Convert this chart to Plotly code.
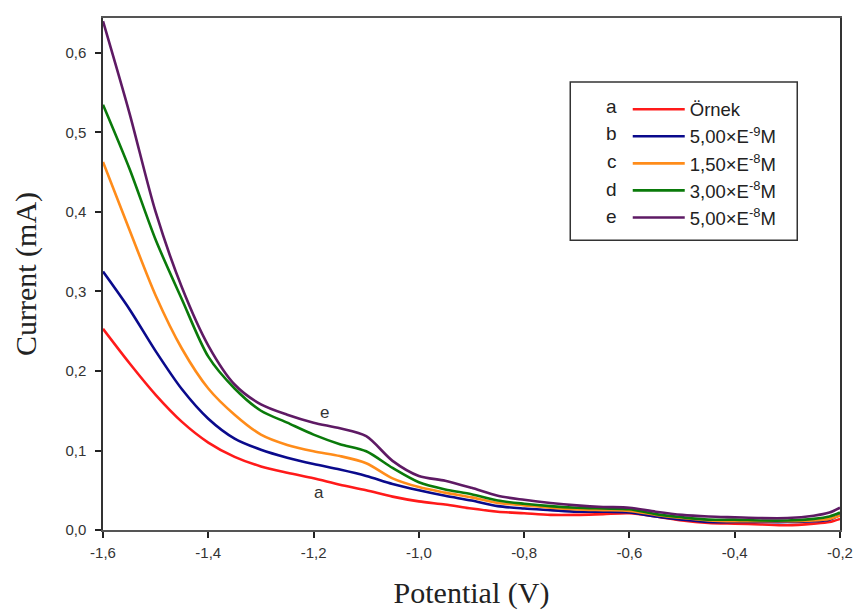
import plotly.graph_objects as go

# Potential sweep (V)
potential = [-1.6, -1.55, -1.5, -1.45, -1.4, -1.35, -1.3, -1.25, -1.2, -1.15,
             -1.1, -1.05, -1.0, -0.95, -0.9, -0.85, -0.8, -0.75, -0.7, -0.65,
             -0.6, -0.55, -0.5, -0.45, -0.4, -0.35, -0.3, -0.25, -0.22, -0.2]

# Current responses (mA)
current_a = [0.253, 0.210, 0.170, 0.136, 0.110, 0.092, 0.080, 0.072, 0.065, 0.057,
             0.050, 0.042, 0.036, 0.032, 0.027, 0.023, 0.021, 0.019, 0.019, 0.020,
             0.021, 0.017, 0.012, 0.009, 0.008, 0.007, 0.006, 0.008, 0.010, 0.014]
current_b = [0.325, 0.278, 0.225, 0.177, 0.140, 0.115, 0.101, 0.091, 0.083, 0.076,
             0.068, 0.058, 0.050, 0.043, 0.037, 0.030, 0.027, 0.025, 0.023, 0.023,
             0.022, 0.017, 0.013, 0.010, 0.010, 0.010, 0.010, 0.011, 0.013, 0.019]
current_c = [0.463, 0.378, 0.295, 0.228, 0.178, 0.145, 0.120, 0.107, 0.099, 0.093,
             0.084, 0.065, 0.054, 0.047, 0.041, 0.034, 0.031, 0.028, 0.026, 0.025,
             0.024, 0.019, 0.015, 0.012, 0.011, 0.011, 0.011, 0.012, 0.014, 0.018]
current_d = [0.535, 0.455, 0.365, 0.290, 0.218, 0.178, 0.150, 0.135, 0.120, 0.108,
             0.099, 0.078, 0.060, 0.051, 0.045, 0.037, 0.033, 0.030, 0.028, 0.027,
             0.026, 0.020, 0.016, 0.013, 0.013, 0.012, 0.012, 0.014, 0.017, 0.022]
current_e = [0.640, 0.525, 0.400, 0.305, 0.232, 0.183, 0.158, 0.145, 0.135, 0.128,
             0.118, 0.087, 0.068, 0.062, 0.053, 0.043, 0.038, 0.034, 0.031, 0.029,
             0.028, 0.023, 0.019, 0.017, 0.016, 0.015, 0.015, 0.018, 0.022, 0.028]

series_letters = ["a", "b", "c", "d", "e"]
series_names = ["Örnek", "5,00×E<sup>-9</sup>M", "1,50×E<sup>-8</sup>M",
                "3,00×E<sup>-8</sup>M", "5,00×E<sup>-8</sup>M"]
series_values = [current_a, current_b, current_c, current_d, current_e]
series_colors = ["#ff1a1a", "#0a0a8c", "#ff8c1a", "#0a7a0a", "#5e1a64"]

x_ticks = [-1.6, -1.4, -1.2, -1.0, -0.8, -0.6, -0.4, -0.2]
x_tick_text = ["-1,6", "-1,4", "-1,2", "-1,0", "-0,8", "-0,6", "-0,4", "-0,2"]
y_ticks = [0.0, 0.1, 0.2, 0.3, 0.4, 0.5, 0.6]
y_tick_text = ["0,0", "0,1", "0,2", "0,3", "0,4", "0,5", "0,6"]

tick_font = dict(family="Liberation Sans, Arial, sans-serif", size=15, color="#333333")
title_font = dict(family="Liberation Serif, Times New Roman, serif", size=30, color="#222222")

fig = go.Figure()
for i, (name, vals, col) in enumerate(zip(series_names, series_values, series_colors)):
    fig.add_trace(go.Scatter(
        x=potential, y=vals, mode="lines", name=name, legendgroup=series_letters[i],
        line=dict(color=col, width=2.6, shape="spline", smoothing=0.8),
    ))

# curve labels
label_font = dict(family="Liberation Sans, Arial", size=17, color="#333333")
fig.add_annotation(x=-1.18, y=0.148, text="e", showarrow=False, font=label_font)
fig.add_annotation(x=-1.19, y=0.047, text="a", showarrow=False, font=label_font)

# legend frame and series letters
fig.add_shape(type="rect", xref="paper", yref="paper", x0=0.634, x1=0.942, y0=0.566, y1=0.875,
              line=dict(color="#333333", width=1.5), fillcolor="rgba(0,0,0,0)")
row_gap = 27.7 / 512
for i, letter in enumerate(series_letters):
    fig.add_annotation(xref="paper", yref="paper", x=0.690, y=0.828 - i * row_gap,
                       yanchor="middle", xanchor="center", text=letter, showarrow=False,
                       font=dict(family="Liberation Sans, Arial", size=19, color="#222222"))

fig.update_layout(
    width=859, height=613,
    margin=dict(l=103, r=19, t=18, b=83),
    paper_bgcolor="white", plot_bgcolor="white",
    separators=",.",
    showlegend=True,
    legend=dict(x=0.712, y=0.858, xanchor="left", yanchor="top",
                bgcolor="rgba(0,0,0,0)", borderwidth=0,
                font=dict(family="Liberation Sans, Arial, sans-serif", size=18.5, color="#222222"),
                tracegroupgap=0, itemwidth=52),
    xaxis=dict(range=[-1.6, -0.2], tickvals=x_ticks, ticktext=x_tick_text,
               showgrid=False, zeroline=False, showline=True, mirror=True,
               linecolor="#555555", linewidth=1.5, ticks="outside", ticklen=6,
               tickwidth=2, tickcolor="#222222", tickfont=tick_font, automargin=False,
               ticklabelstandoff=2,
               title=dict(text="Potential (V)", font=title_font, standoff=22)),
    yaxis=dict(range=[0, 0.644], tickvals=y_ticks, ticktext=y_tick_text,
               showgrid=False, zeroline=False, showline=True, mirror=True,
               linecolor="#333333", linewidth=1.5, ticks="outside", ticklen=6,
               tickwidth=2, tickcolor="#222222", tickfont=tick_font, automargin=False,
               ticklabelstandoff=6,
               title=dict(text="Current (mA)", font=title_font, standoff=20)),
)

fig.write_html("out.html")
